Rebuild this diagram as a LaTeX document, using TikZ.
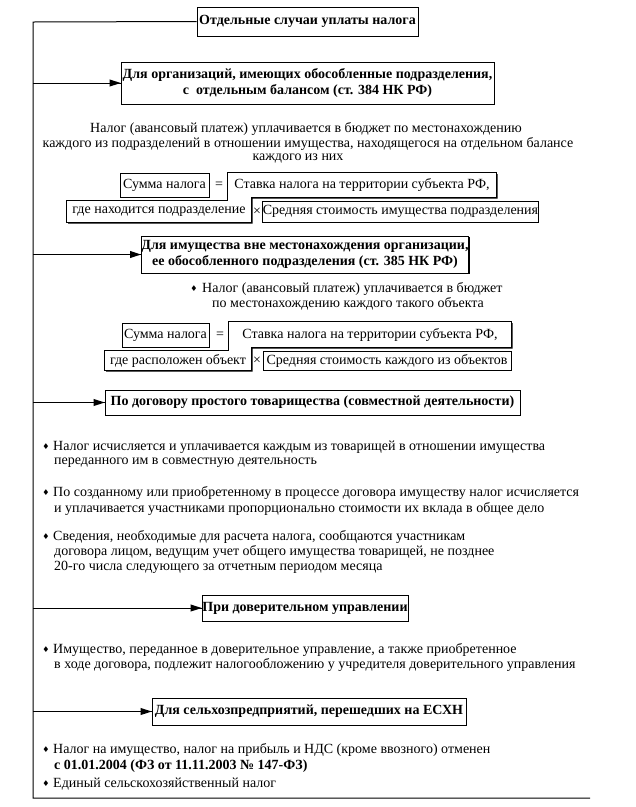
\documentclass[tikz,border=0pt]{standalone}
\usepackage{fontspec}
\setmainfont{Liberation Serif}
\newfontfamily\symfont{DejaVu Sans}
\usetikzlibrary{shadows,backgrounds}
\newcommand\tipto[1]{\fill ([xshift=-11pt,yshift=3.6pt]#1.west) -- (#1.west) -- ([xshift=-11pt,yshift=-3.6pt]#1.west) -- cycle;}
\begin{document}
\begin{tikzpicture}[x=1pt,y=-1pt,
  font=\fontsize{14}{15}\selectfont,
  shd/.style={drop shadow={shadow xshift=1.3pt,shadow yshift=-1.3pt,opacity=1,fill=black}},
  bx/.style={draw,fill=white,line width=0.8pt,inner sep=0pt,align=center,
    font=\fontsize{14}{16}\selectfont\bfseries,shd},
  fb/.style={draw,fill=white,line width=0.8pt,inner sep=0pt,shd},
  ft/.style={inner sep=0pt},
  ln/.style={anchor=west,inner sep=0pt},
  dia/.style={inner sep=0pt,font=\symfont\fontsize{8}{8}\selectfont},
  arr/.style={line width=0.9pt},
  trunk/.style={line width=1pt}]
\useasboundingbox (0,0) rectangle (636,807);

% headings
\node[bx,minimum width=221pt,minimum height=29pt] (top) at (307.5,21.5) {Отдельные случаи уплаты налога};
\node[bx,minimum width=373pt,minimum height=42pt] (b2) at (307.5,83) {Для организаций, имеющих обособленные подразделения,\\с\ \ отдельным балансом (ст. 384 НК РФ)};
\node[bx,minimum width=324pt,minimum height=37pt] (b3) at (305,254.5) {Для имущества вне местонахождения организации,\\ее обособленного подразделения (ст. 385 НК РФ)};
\node[bx,minimum width=415pt,minimum height=25pt] (b4) at (312.5,402.5) {По договору простого товарищества (совместной деятельности)};
\node[bx,minimum width=206pt,minimum height=26pt] (b5) at (305,608) {При доверительном управлении};
\node[bx,minimum width=314pt,minimum height=27pt] (b6) at (309,711.5) {Для сельхозпредприятий, перешедших на ЕСХН};

% trunk
\coordinate (bend) at (33,22);
\coordinate (foot) at (33,798);
\coordinate (tail) at (590,798);
\draw[trunk] (top.west) -- (bend) -- (foot) -- (tail);
\draw[arr] (bend |- b2.west) -- (b2.west); \tipto{b2}
\draw[arr] (bend |- b3.west) -- (b3.west); \tipto{b3}
\draw[arr] (bend |- b4.west) -- (b4.west); \tipto{b4}
\draw[arr] (bend |- b5.west) -- (b5.west); \tipto{b5}
\draw[arr] (bend |- b6.west) -- (b6.west); \tipto{b6}

% paragraph 1
\node[ft] (p1a) at (306,129) {Налог (авансовый платеж) уплачивается в бюджет по местонахождению};
\node[ft] (p1b) at (308,144) {каждого из подразделений в отношении имущества, находящегося на отдельном балансе};
\node[ft] (p1c) at (298,159) {каждого из них};

% formula 1
\node[fb,minimum width=89pt,minimum height=24pt] (sum1) at (164.5,185) {Сумма налога};
\node[ft] (eq1) at (219,185) {=};
\node[ft,minimum width=268pt,minimum height=24pt] (s1) at (362,185) {Ставка налога на территории субъекта РФ,};
\node[ft,minimum width=184pt,minimum height=21pt] (g1) at (159,211.5) {где находится подразделение};
\node[ft] (x1) at (257,211.5) {×};
\node[fb,minimum width=275pt,minimum height=21pt] (m1) at (400.5,211.5) {Средняя стоимость имущества подразделения};

% paragraph 2
\node[dia] (d0) at (194,289) {♦};
\node[ln] (p2a) at (202,289) {Налог (авансовый платеж) уплачивается в бюджет};
\node[ln] (p2b) at (212,304) {по местонахождению каждого такого объекта};

% formula 2
\node[fb,minimum width=87pt,minimum height=24pt] (sum2) at (165.5,335) {Сумма налога};
\node[ft] (eq2) at (220,335) {=};
\node[ft,minimum width=282pt,minimum height=25pt] (s2) at (370,334.5) {Ставка налога на территории субъекта РФ,};
\node[ft,minimum width=146pt,minimum height=19pt] (g2) at (178,360.5) {где расположен объект};
\node[ft] (x2) at (257,360.5) {×};
\node[fb,minimum width=248pt,minimum height=19pt] (m2) at (387,360.5) {Средняя стоимость каждого из объектов};

\begin{pgfonlayer}{background}
\draw[fb] (s1.north west) -- (s1.north east) -- (s1.south east) -- (g1.east |- s1.south)
  -- (g1.south east) -- (g1.south west) -- (g1.north west) -- (s1.west |- g1.north) -- cycle;
\draw[fb] (s2.north west) -- (s2.north east) -- (s2.south east) -- (g2.east |- s2.south)
  -- (g2.south east) -- (g2.south west) -- (g2.north west) -- (s2.west |- g2.north) -- cycle;
\end{pgfonlayer}

% bullets of section 4
\node[dia] (d1) at (46,447) {♦};
\node[ln] (l1a) at (53,447) {Налог исчисляется и уплачивается каждым из товарищей в отношении имущества};
\node[ln] (l1b) at (54,463) {переданного им в совместную деятельность};
\node[dia] (d2) at (46,493) {♦};
\node[ln] (l2a) at (53,493) {По созданному или приобретенному в процессе договора имуществу налог исчисляется};
\node[ln] (l2b) at (54,509) {и уплачивается участниками пропорционально стоимости их вклада в общее дело};
\node[dia] (d3) at (46,537) {♦};
\node[ln] (l3a) at (53,537) {Сведения, необходимые для расчета налога, сообщаются участникам};
\node[ln] (l3b) at (54,552) {договора лицом, ведущим учет общего имущества товарищей, не позднее};
\node[ln] (l3c) at (54,567) {20-го числа следующего за отчетным периодом месяца};

% bullet of section 5
\node[dia] (d4) at (46,650) {♦};
\node[ln] (l4a) at (53,650) {Имущество, переданное в доверительное управление, а также приобретенное};
\node[ln] (l4b) at (54,665) {в ходе договора, подлежит налогообложению у учредителя доверительного управления};

% bullets of section 6
\node[dia] (d5) at (46,750) {♦};
\node[ln] (l5a) at (53,750) {Налог на имущество, налог на прибыль и НДС (кроме ввозного) отменен};
\node[ln,font=\fontsize{14}{15}\selectfont\bfseries] (l5b) at (54,766) {с 01.01.2004 (ФЗ от 11.11.2003 № 147-ФЗ)};
\node[dia] (d6) at (46,784) {♦};
\node[ln] (l6) at (53,784) {Единый сельскохозяйственный налог};
\end{tikzpicture}
\end{document}
